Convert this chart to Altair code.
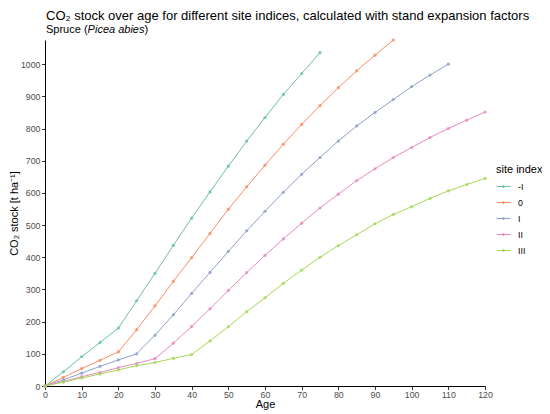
import altair as alt
import pandas as pd

FONT = "Liberation Sans"

AGES = [0, 5, 10, 15, 20, 25, 30, 35, 40, 45, 50, 55, 60, 65, 70, 75, 80, 85,
        90, 95, 100, 105, 110, 115, 120]
SITE_INDICES = ["-I", "0", "I", "II", "III"]
COLORS = ["#66c2a5", "#fc8d62", "#8da0cb", "#e78ac3", "#a6d854"]

# CO2 stock [t/ha], one value per 5 years of age
CO2_SI_MINUS_I = [0, 44, 91, 135, 180, 265, 350, 437, 522, 603, 683, 761, 834,
                  906, 971, 1036]
CO2_SI_0 = [0, 27, 54, 80, 106, 175, 249, 325, 399, 474, 549, 619, 686, 751,
            813, 871, 927, 979, 1028, 1075]
CO2_SI_I = [0, 19, 40, 61, 81, 100, 158, 221, 288, 353, 418, 482, 543, 602,
            658, 710, 761, 808, 850, 890, 930, 966, 1000]
CO2_SI_II = [0, 14, 29, 42, 57, 70, 85, 133, 185, 240, 297, 352, 406, 457,
             506, 553, 596, 638, 675, 710, 741, 772, 800, 826, 851]
CO2_SI_III = [0, 12, 25, 37, 50, 63, 73, 86, 98, 140, 184, 231, 274, 319, 360,
              400, 436, 470, 504, 533, 557, 583, 606, 626, 645]

X_TICKS = [0, 10, 20, 30, 40, 50, 60, 70, 80, 90, 100, 110, 120]
Y_TICKS = [0, 100, 200, 300, 400, 500, 600, 700, 800, 900, 1000]

TITLE = "CO\u2082 stock over age for different site indices, calculated with stand expansion factors"
SUBTITLE_PARTS = [("Spruce (", "normal", 1), ("Picea abies", "italic", 42.6), (")", "normal", 99.5)]

# a short line with a dot in the middle, like the ggplot key
LEGEND_SYMBOL = "M-1,0H1M-0.14,0A0.14,0.14,0,1,1,0.14,0A0.14,0.14,0,1,1,-0.14,0Z"


def build_frame() -> pd.DataFrame:
    series = [CO2_SI_MINUS_I, CO2_SI_0, CO2_SI_I, CO2_SI_II, CO2_SI_III]
    rows = []
    for site, values in zip(SITE_INDICES, series):
        for age, co2 in zip(AGES, values):
            rows.append({"site": site, "age": age, "co2": co2})
    return pd.DataFrame(rows)


def text_layer(text: str, x: float, y: float, size: float, style: str = "normal") -> alt.Chart:
    return (
        alt.Chart(pd.DataFrame({"label": [text]}))
        .mark_text(align="left", baseline="alphabetic", font=FONT, fontSize=size,
                   fontStyle=style, color="#000000")
        .encode(text="label:N", x=alt.value(x), y=alt.value(y))
    )


def build_chart(frame: pd.DataFrame) -> alt.LayerChart:
    x = alt.X(
        "age:Q",
        scale=alt.Scale(domain=[0, 120], nice=False, zero=False),
        axis=alt.Axis(title="Age", values=X_TICKS, format="d", grid=False, tickSize=3.5,
                      labelPadding=0.5, titlePadding=0, labelFlush=False),
    )
    y = alt.Y(
        "co2:Q",
        scale=alt.Scale(domain=[0, 1075], nice=False),
        axis=alt.Axis(title="CO\u2082 stock [t ha\u207b\u00b9]", values=Y_TICKS, format="d",
                      grid=False, tickSize=3.5, labelPadding=1.5, titlePadding=0.5),
    )
    color_scale = alt.Scale(domain=SITE_INDICES, range=COLORS)
    lines = (
        alt.Chart(frame)
        .mark_line(strokeWidth=1)
        .encode(
            x=x,
            y=y,
            color=alt.Color(
                "site:N",
                scale=color_scale,
                sort=SITE_INDICES,
                legend=alt.Legend(
                    title="site index", orient="none", legendX=451, legendY=124,
                    symbolType=LEGEND_SYMBOL, symbolSize=196, symbolStrokeWidth=1,
                    labelFontSize=8.8, titleFontSize=11, titleFontWeight="normal",
                    titleColor="#000000", labelColor="#000000", rowPadding=3,
                    titlePadding=4, labelOffset=7, labelFont=FONT, titleFont=FONT,
                ),
            ),
            detail="site:N",
        )
    )
    points = (
        alt.Chart(frame)
        .mark_point(filled=True, size=10, opacity=0.85)
        .encode(x=x, y=y, color=alt.Color("site:N", scale=color_scale, legend=None))
    )
    layers = [lines, points, text_layer(TITLE, 1, -20.3, 13)]
    for part, style, left in SUBTITLE_PARTS:
        layers.append(text_layer(part, left, -7, 11, style))
    return (
        alt.layer(*layers)
        .properties(
            width=440,
            height=346,
            autosize=alt.AutoSizeParams(type="none"),
            padding={"left": 37, "top": 32, "right": 57, "bottom": 24},
        )
        .configure(font=FONT)
        .configure_view(stroke=None)
        .configure_axis(
            domainColor="#000000", domainWidth=1, tickColor="#333333", tickWidth=1,
            labelColor="#4d4d4d", labelFontSize=8.8, titleFontSize=11,
            titleColor="#000000", titleFontWeight="normal", labelFont=FONT, titleFont=FONT,
        )
    )


chart = build_chart(build_frame())
chart.save("out.html", embed_options={"renderer": "svg", "actions": False})
